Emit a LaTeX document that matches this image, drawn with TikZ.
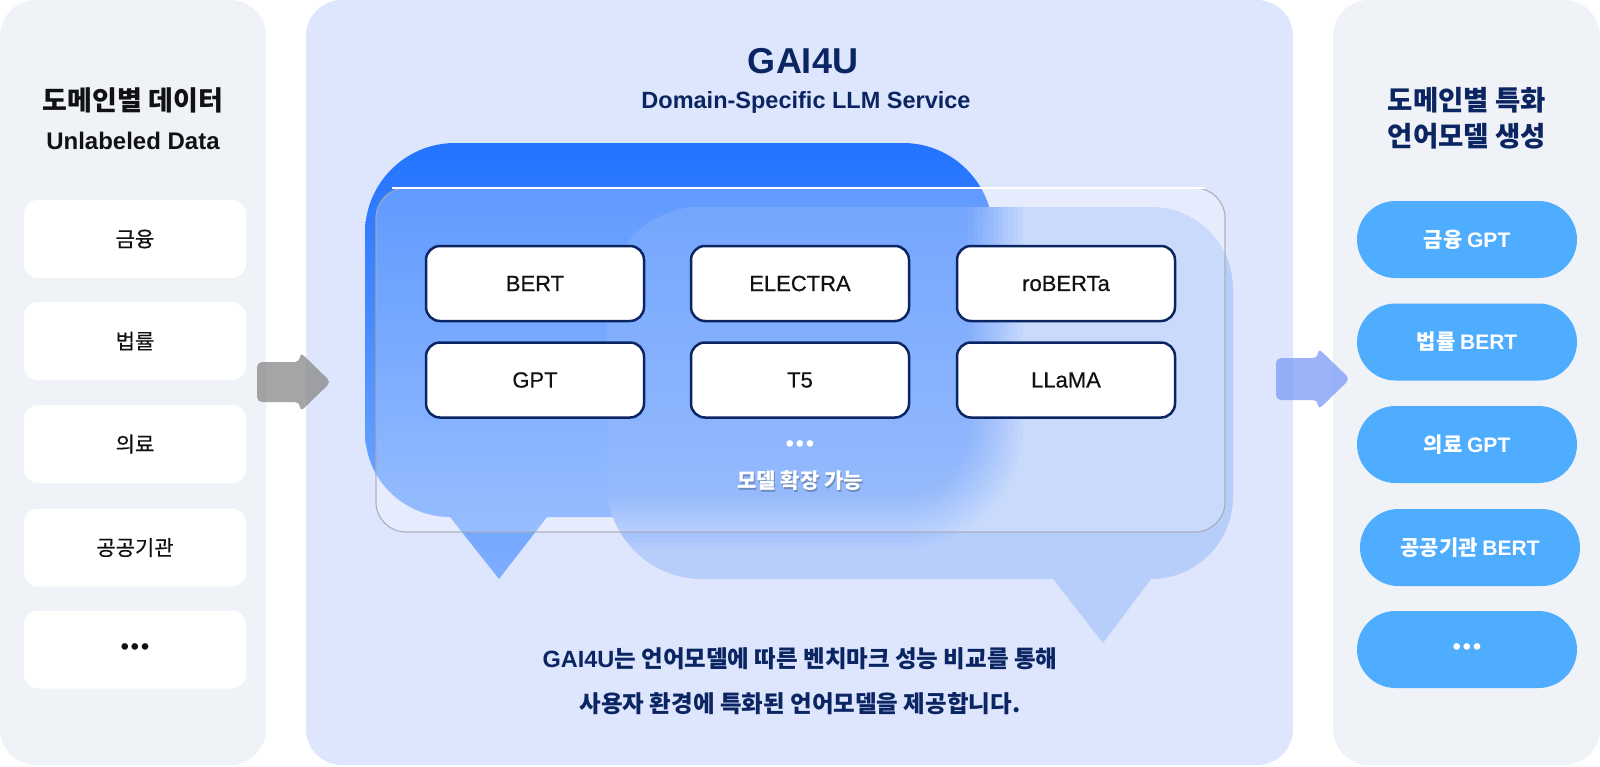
\documentclass[tikz,border=0pt]{standalone}
\usepackage{fontspec}
\setmainfont{Noto Sans CJK KR}
\newfontfamily\lat{Liberation Sans}
\newfontfamily\latmed{Liberation Sans}[FakeBold=0.5]
\newfontfamily\krmed{Noto Sans CJK KR}[FakeBold=0.5]
\definecolor{leftbg}{HTML}{EFF3F8}
\definecolor{midbg}{HTML}{DEE6FD}
\definecolor{navy}{HTML}{0B2462}
\definecolor{pillc}{HTML}{4FADFF}
\definecolor{bluetop}{HTML}{2273FF}
\definecolor{bluebot}{HTML}{7FAEFF}
\definecolor{lightb}{HTML}{B7CEFB}
\definecolor{mixtop}{RGB}{61,130,253}
\definecolor{mixbot}{RGB}{113,163,253}
\definecolor{ink}{HTML}{111111}
\definecolor{arrgray}{HTML}{8E8E8E}
\definecolor{arrblue}{HTML}{7C9AF7}
\definecolor{glassedge}{HTML}{A4AAB4}
\newcommand\tridots{•\hspace{2pt}•\hspace{2pt}•}
\tikzset{
  panel/.style={rounded corners=36pt},
  databox/.style={fill=white, rounded corners=14pt, minimum width=222pt, minimum height=78pt, inner sep=0pt,
    text=ink, font=\krmed\fontsize{21}{25}\selectfont},
  modelbox/.style={fill=white, draw=navy, line width=2.5pt, rounded corners=14pt, minimum width=218pt,
    minimum height=75pt, inner sep=0pt, text=ink, font=\latmed\fontsize{22}{26}\selectfont},
  pillbox/.style={fill=pillc, rounded corners=38.5pt, minimum width=220pt, minimum height=77pt, inner sep=0pt,
    text=white, font=\bfseries\fontsize{21}{25}\selectfont},
  navytext/.style={text=navy, font=\bfseries\fontsize{23.5}{28}\selectfont, inner sep=0pt},
  dotsfont/.style={font=\lat\bfseries\fontsize{23}{27}\selectfont},
  arrowshape/.style={rounded corners=5pt},
}
\begin{document}
\begin{tikzpicture}[x=1pt,y=-1pt]
\useasboundingbox (0,0) rectangle (1600,766);
% panels
\fill[leftbg, panel] (0,0) rectangle (266,765);
\fill[midbg, panel] (306,0) rectangle (1293,765);
\fill[leftbg, panel] (1333,0) rectangle (1600,765);

% left titles
\node[text=ink, font=\bfseries\fontsize{27}{32}\selectfont, inner sep=0pt] (ltitle) at (133,100) {도메인별 데이터};
\node[text=ink, font=\lat\bfseries\fontsize{24}{28}\selectfont, inner sep=0pt] (lsub) at (133,141) {Unlabeled Data};

% left data boxes
\node[databox] (d1) at (135,239) {금융};
\node[databox] (d2) at (135,341) {법률};
\node[databox] (d3) at (135,444) {의료};
\node[databox] (d4) at (135,547.5) {공공기관};
\node[databox, dotsfont] (d5) at (135,649.5) {\tridots};

% center titles
\node[text=navy, font=\lat\bfseries\fontsize{36}{40}\selectfont, inner sep=0pt] (ctitle) at (803,61) {GAI4U};
\node[text=navy, font=\lat\bfseries\fontsize{23.5}{28}\selectfont, inner sep=0pt] (csub) at (806,102) {Domain-Specific LLM Service};

% blue back bubble
\shade[top color=bluetop, bottom color=bluebot]
  (365,233) .. controls (365,183.3) and (405.3,143) .. (455,143)
  -- (903,143) .. controls (952.7,143) and (993,183.3) .. (993,233)
  -- (993,427) .. controls (993,476.7) and (952.7,517) .. (903,517)
  -- (547,517) -- (499,579) -- (450,517)
  .. controls (403.1,517) and (365,478.9) .. (365,432) -- cycle;

% light front bubble (frosted)
\begin{scope}
\path[clip]
  (607,302) .. controls (607,249.5) and (649.5,207) .. (702,207)
  -- (1151,207) .. controls (1196.3,207) and (1233,243.7) .. (1233,289)
  -- (1233,497) .. controls (1233,542.3) and (1196.3,579) .. (1151,579)
  -- (1103,643) -- (1053,579)
  -- (702,579) .. controls (649.5,579) and (607,536.5) .. (607,484) -- cycle;
\fill[lightb] (600,200) rectangle (1240,650);
\foreach \i in {0,...,11}{
  \pgfmathsetmacro\d{30-5*\i}
  \pgfmathsetmacro\a{1/(12-\i)}
  \pgfmathsetmacro\k{0.5523*(90+\d)}
  \shade[top color=mixtop, bottom color=mixbot, fill opacity=\a]
    (560,140) -- ({993+\d},140) -- ({993+\d},427)
    .. controls ({993+\d},{427+\k}) and ({903+\k},{517+\d}) .. (903,{517+\d})
    -- (560,{517+\d}) -- cycle;
}
\end{scope}

% glass panel
\fill[white, fill opacity=0.25, rounded corners=30pt] (376,188) rectangle (1225,532);
\draw[glassedge, line width=1.2pt, draw opacity=0.85, rounded corners=30pt] (376,188) rectangle (1225,532);
\draw[white, line width=1.6pt] (392,188) -- (1205,188);

% model boxes
\node[modelbox] (m1) at (535,283.5) {BERT};
\node[modelbox] (m2) at (800,283.5) {ELECTRA};
\node[modelbox] (m3) at (1066,283.5) {roBERTa};
\node[modelbox] (m4) at (535,380) {GPT};
\node[modelbox] (m5) at (800,380) {T5};
\node[modelbox] (m6) at (1066,380) {LLaMA};

\node[text=white, dotsfont, inner sep=0pt] (dots) at (800,446) {\tridots};
\node[text=black, text opacity=0.25, font=\bfseries\fontsize{21}{25}\selectfont, inner sep=0pt] (extsh) at (801,483) {모델 확장 가능};
\node[text=white, font=\bfseries\fontsize{21}{25}\selectfont, inner sep=0pt] (ext) at (800,481) {모델 확장 가능};

% bottom text
\node[navytext] (b1) at (800,659) {{\lat GAI4U}는 언어모델에 따른 벤치마크 성능 비교를 통해};
\node[navytext] (b2) at (800,704) {사용자 환경에 특화된 언어모델을 제공합니다.};

% arrows
\fill[arrgray, fill opacity=0.8, arrowshape]
  (257,362) -- (300,362) -- (300,352) -- (331,382) -- (300,412) -- (300,402) -- (257,402) -- cycle;
\fill[arrblue, fill opacity=0.75, arrowshape]
  (1276,358) -- (1318,358) -- (1318,348) -- (1350,379) -- (1318,410) -- (1318,400) -- (1276,400) -- cycle;

% right titles
\node[text=navy, font=\bfseries\fontsize{27.5}{32}\selectfont, inner sep=0pt] (rt1) at (1467,100) {도메인별 특화};
\node[text=navy, font=\bfseries\fontsize{27.5}{32}\selectfont, inner sep=0pt] (rt2) at (1467,136) {언어모델 생성};

% pills
\node[pillbox] (p1) at (1467,239.5) {금융 {\lat GPT}};
\node[pillbox] (p2) at (1467,342) {법률 {\lat BERT}};
\node[pillbox] (p3) at (1467,444.5) {의료 {\lat GPT}};
\node[pillbox] (p4) at (1470,547.5) {공공기관 {\lat BERT}};
\node[pillbox, dotsfont] (p5) at (1467,649.5) {\tridots};
\end{tikzpicture}
\end{document}
